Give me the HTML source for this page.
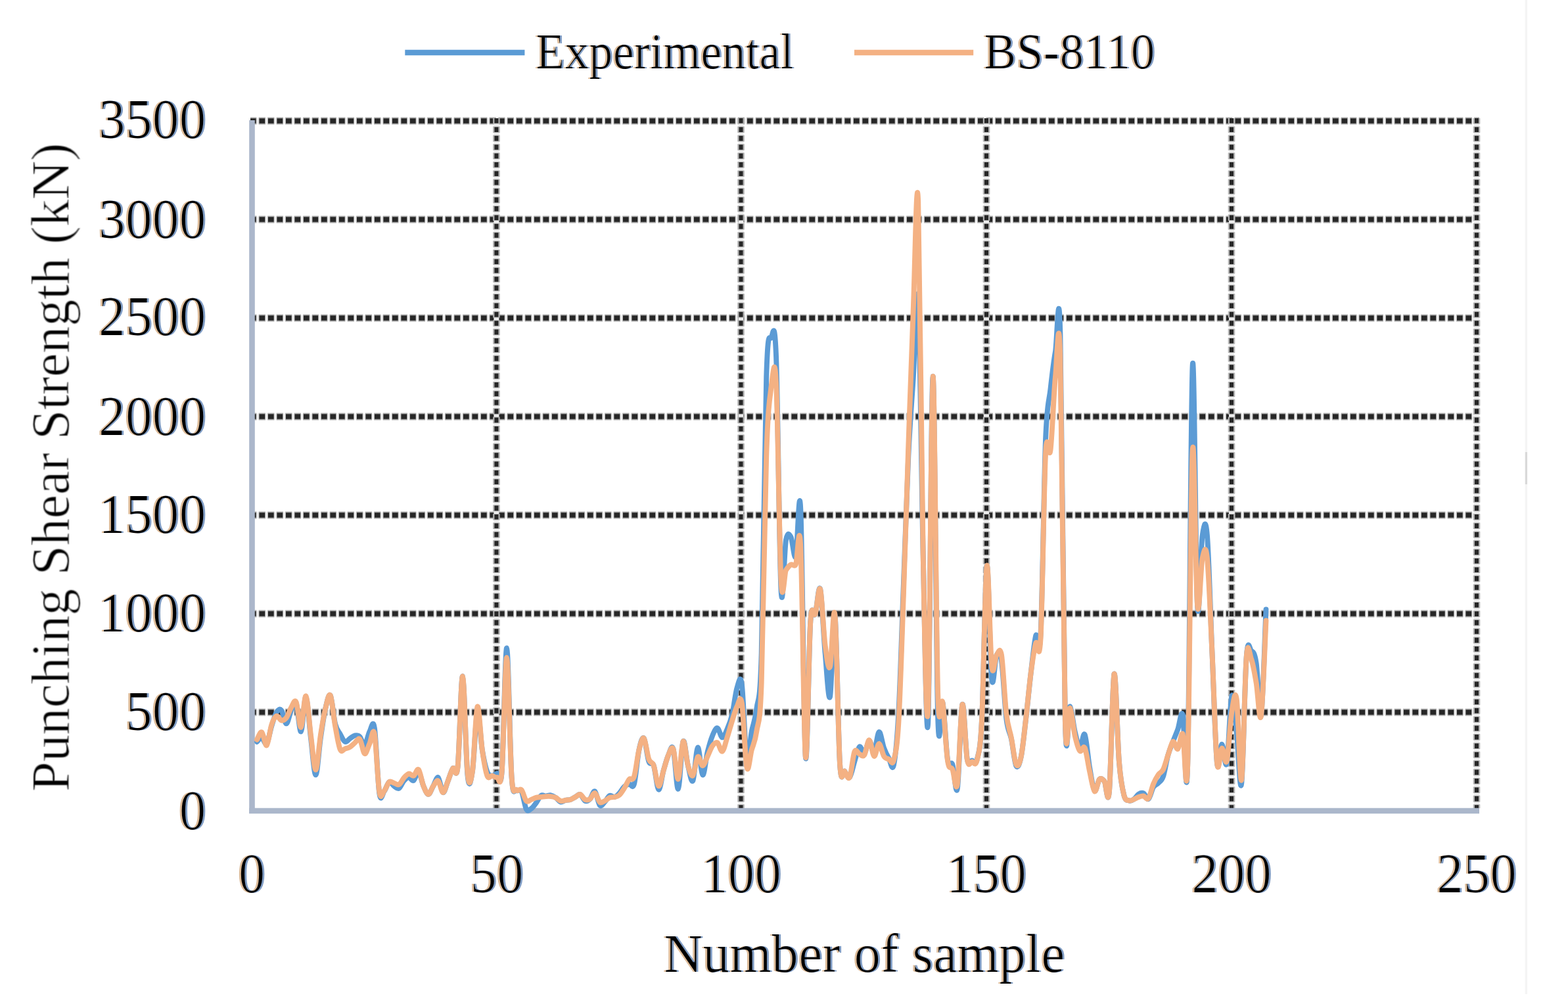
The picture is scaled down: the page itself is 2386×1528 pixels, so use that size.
<!DOCTYPE html>
<html><head><meta charset="utf-8"><style>
html,body{margin:0;padding:0;background:#fff;width:2386px;height:1528px;overflow:hidden}
svg{display:block}
.t{font-family:"Liberation Serif","Times New Roman",serif;fill:#000;filter:url(#ct)}
</style></head><body>
<svg width="2386" height="1528" viewBox="0 0 2386 1528">
<defs><filter id="ct" x="-10%" y="-10%" width="120%" height="120%" color-interpolation-filters="sRGB">
<feOffset in="SourceAlpha" dx="-1.8" dy="0" result="l"/><feFlood flood-color="#DDBB98" result="lc"/><feComposite in="lc" in2="l" operator="in" result="left"/>
<feOffset in="SourceAlpha" dx="1.8" dy="0" result="r"/><feFlood flood-color="#7F9CC4" result="rc"/><feComposite in="rc" in2="r" operator="in" result="right"/>
<feMorphology in="SourceAlpha" operator="erode" radius="0.7 0.4" result="core"/>
<feMerge><feMergeNode in="left"/><feMergeNode in="right"/><feMergeNode in="core"/></feMerge>
</filter>
<filter id="cg" x="-5%" y="-10%" width="110%" height="120%" color-interpolation-filters="sRGB">
<feFlood flood-color="#8a8a8a" result="gc"/><feComposite in="gc" in2="SourceAlpha" operator="in" result="halo"/>
<feMorphology in="SourceAlpha" operator="erode" radius="0.9 0.9" result="core"/>
<feMerge><feMergeNode in="halo"/><feMergeNode in="core"/></feMerge>
</filter></defs>
<rect width="2386" height="1528" fill="#fff"/>
<line x1="2322.4" y1="0" x2="2322.4" y2="1513" stroke="#f4f4f4" stroke-width="3.3"/><line x1="2322.4" y1="688" x2="2322.4" y2="737" stroke="#d9d9d9" stroke-width="3.3"/>
<line x1="381" y1="184" x2="2251" y2="184" stroke="#eeeeee" stroke-width="8"/><line x1="381" y1="184" x2="2251" y2="184" stroke="#a8a8a8" stroke-width="10.8" stroke-dasharray="10.2 3.3" stroke-dashoffset="0.8"/><line x1="381" y1="184" x2="2251" y2="184" stroke="#262626" stroke-width="7.4" stroke-dasharray="8.6 4.9"/><line x1="381" y1="334" x2="2251" y2="334" stroke="#eeeeee" stroke-width="8"/><line x1="381" y1="334" x2="2251" y2="334" stroke="#a8a8a8" stroke-width="10.8" stroke-dasharray="10.2 3.3" stroke-dashoffset="0.8"/><line x1="381" y1="334" x2="2251" y2="334" stroke="#262626" stroke-width="7.4" stroke-dasharray="8.6 4.9"/><line x1="381" y1="484" x2="2251" y2="484" stroke="#eeeeee" stroke-width="8"/><line x1="381" y1="484" x2="2251" y2="484" stroke="#a8a8a8" stroke-width="10.8" stroke-dasharray="10.2 3.3" stroke-dashoffset="0.8"/><line x1="381" y1="484" x2="2251" y2="484" stroke="#262626" stroke-width="7.4" stroke-dasharray="8.6 4.9"/><line x1="381" y1="634" x2="2251" y2="634" stroke="#eeeeee" stroke-width="8"/><line x1="381" y1="634" x2="2251" y2="634" stroke="#a8a8a8" stroke-width="10.8" stroke-dasharray="10.2 3.3" stroke-dashoffset="0.8"/><line x1="381" y1="634" x2="2251" y2="634" stroke="#262626" stroke-width="7.4" stroke-dasharray="8.6 4.9"/><line x1="381" y1="784" x2="2251" y2="784" stroke="#eeeeee" stroke-width="8"/><line x1="381" y1="784" x2="2251" y2="784" stroke="#a8a8a8" stroke-width="10.8" stroke-dasharray="10.2 3.3" stroke-dashoffset="0.8"/><line x1="381" y1="784" x2="2251" y2="784" stroke="#262626" stroke-width="7.4" stroke-dasharray="8.6 4.9"/><line x1="381" y1="934" x2="2251" y2="934" stroke="#eeeeee" stroke-width="8"/><line x1="381" y1="934" x2="2251" y2="934" stroke="#a8a8a8" stroke-width="10.8" stroke-dasharray="10.2 3.3" stroke-dashoffset="0.8"/><line x1="381" y1="934" x2="2251" y2="934" stroke="#262626" stroke-width="7.4" stroke-dasharray="8.6 4.9"/><line x1="381" y1="1084" x2="2251" y2="1084" stroke="#eeeeee" stroke-width="8"/><line x1="381" y1="1084" x2="2251" y2="1084" stroke="#a8a8a8" stroke-width="10.8" stroke-dasharray="10.2 3.3" stroke-dashoffset="0.8"/><line x1="381" y1="1084" x2="2251" y2="1084" stroke="#262626" stroke-width="7.4" stroke-dasharray="8.6 4.9"/><line x1="755.4" y1="180" x2="755.4" y2="1230" stroke="#eeeeee" stroke-width="8"/><line x1="755.4" y1="180" x2="755.4" y2="1230" stroke="#b0b0b0" stroke-width="10.5" stroke-dasharray="9.6 3.8" stroke-dashoffset="1"/><line x1="755.4" y1="180" x2="755.4" y2="1230" stroke="#262626" stroke-width="6" stroke-dasharray="7.6 5.8"/><line x1="1127.5" y1="180" x2="1127.5" y2="1230" stroke="#eeeeee" stroke-width="8"/><line x1="1127.5" y1="180" x2="1127.5" y2="1230" stroke="#b0b0b0" stroke-width="10.5" stroke-dasharray="9.6 3.8" stroke-dashoffset="1"/><line x1="1127.5" y1="180" x2="1127.5" y2="1230" stroke="#262626" stroke-width="6" stroke-dasharray="7.6 5.8"/><line x1="1501" y1="180" x2="1501" y2="1230" stroke="#eeeeee" stroke-width="8"/><line x1="1501" y1="180" x2="1501" y2="1230" stroke="#b0b0b0" stroke-width="10.5" stroke-dasharray="9.6 3.8" stroke-dashoffset="1"/><line x1="1501" y1="180" x2="1501" y2="1230" stroke="#262626" stroke-width="6" stroke-dasharray="7.6 5.8"/><line x1="1874" y1="180" x2="1874" y2="1230" stroke="#eeeeee" stroke-width="8"/><line x1="1874" y1="180" x2="1874" y2="1230" stroke="#b0b0b0" stroke-width="10.5" stroke-dasharray="9.6 3.8" stroke-dashoffset="1"/><line x1="1874" y1="180" x2="1874" y2="1230" stroke="#262626" stroke-width="6" stroke-dasharray="7.6 5.8"/><line x1="2247" y1="180" x2="2247" y2="1230" stroke="#eeeeee" stroke-width="8"/><line x1="2247" y1="180" x2="2247" y2="1230" stroke="#b0b0b0" stroke-width="10.5" stroke-dasharray="9.6 3.8" stroke-dashoffset="1"/><line x1="2247" y1="180" x2="2247" y2="1230" stroke="#262626" stroke-width="6" stroke-dasharray="7.6 5.8"/>
<line x1="383.5" y1="183" x2="383.5" y2="1238" stroke="#ABB7CB" stroke-width="8.6"/>
<line x1="379.2" y1="1234" x2="2251" y2="1234" stroke="#ABB7CB" stroke-width="8.4"/>
<path d="M391.0,1129.0 C392.2,1128.0 395.9,1122.5 398.4,1123.0 C400.9,1123.5 403.4,1135.0 405.9,1132.0 C408.3,1129.0 410.8,1113.0 413.3,1105.0 C415.8,1097.0 418.3,1088.0 420.8,1084.0 C423.3,1080.0 425.7,1078.1 428.2,1081.0 C430.7,1083.9 433.2,1101.4 435.7,1101.4 C438.2,1101.4 440.6,1086.2 443.1,1081.0 C445.6,1075.8 448.1,1065.1 450.6,1070.5 C453.1,1075.9 455.6,1115.0 458.0,1113.4 C460.5,1111.8 463.0,1059.3 465.5,1060.9 C468.0,1062.5 470.5,1103.2 472.9,1123.0 C475.4,1142.8 477.9,1179.4 480.4,1179.4 C482.9,1179.4 485.4,1139.9 487.9,1123.0 C490.3,1106.1 492.8,1088.8 495.3,1078.0 C497.8,1067.2 500.3,1054.5 502.8,1058.5 C505.2,1062.5 507.7,1092.2 510.2,1102.0 C512.7,1111.8 515.2,1112.8 517.7,1117.3 C520.2,1121.8 522.6,1127.9 525.1,1129.0 C527.6,1130.1 530.1,1125.5 532.6,1123.9 C535.1,1122.3 537.5,1119.9 540.0,1119.4 C542.5,1118.9 545.0,1118.7 547.5,1121.2 C550.0,1123.7 552.5,1135.7 554.9,1134.4 C557.4,1133.1 559.9,1117.8 562.4,1113.4 C564.9,1109.0 567.4,1092.3 569.9,1108.0 C572.3,1123.7 574.8,1191.6 577.3,1207.6 C579.8,1223.6 582.3,1206.9 584.8,1204.0 C587.2,1201.1 589.7,1191.5 592.2,1190.2 C594.7,1188.9 597.2,1194.9 599.7,1196.5 C602.2,1198.1 604.6,1201.2 607.1,1199.8 C609.6,1198.4 612.1,1191.2 614.6,1188.4 C617.1,1185.6 619.5,1183.1 622.0,1183.0 C624.5,1182.9 627.0,1189.3 629.5,1187.8 C632.0,1186.3 634.5,1172.9 636.9,1174.3 C639.4,1175.7 641.9,1190.4 644.4,1196.2 C646.9,1202.0 649.4,1208.8 651.8,1208.8 C654.3,1208.8 656.8,1200.5 659.3,1196.2 C661.8,1191.9 664.3,1181.6 666.8,1183.3 C669.2,1185.0 671.7,1205.2 674.2,1206.1 C676.7,1207.0 679.2,1194.5 681.7,1188.4 C684.1,1182.3 686.6,1173.2 689.1,1169.5 C691.6,1165.8 694.1,1189.9 696.6,1166.5 C699.1,1143.1 701.5,1027.1 704.0,1029.4 C706.5,1031.7 709.0,1155.9 711.5,1180.0 C714.0,1204.1 716.4,1190.0 718.9,1174.0 C721.4,1158.0 723.9,1089.5 726.4,1084.0 C728.9,1078.5 731.4,1126.2 733.8,1141.3 C736.3,1156.4 738.8,1167.7 741.3,1174.3 C743.8,1180.9 746.3,1180.1 748.7,1180.6 C751.2,1181.1 753.7,1178.1 756.2,1177.0 C758.7,1175.9 761.2,1205.8 763.7,1174.0 C766.1,1142.2 768.6,984.7 771.1,986.2 C773.6,987.7 776.1,1147.0 778.6,1183.0 C781.0,1219.0 783.5,1198.7 786.0,1202.2 C788.5,1205.7 791.0,1199.1 793.5,1204.0 C796.0,1208.9 798.4,1227.1 800.9,1231.6 C803.4,1236.1 805.9,1232.3 808.4,1230.7 C810.9,1229.1 813.3,1225.3 815.8,1222.0 C818.3,1218.7 820.8,1212.7 823.3,1210.9 C825.8,1209.1 828.3,1211.6 830.7,1211.5 C833.2,1211.4 835.7,1209.9 838.2,1210.3 C840.7,1210.7 843.2,1212.2 845.6,1213.9 C848.1,1215.6 850.6,1219.8 853.1,1220.5 C855.6,1221.2 858.1,1218.4 860.6,1217.8 C863.0,1217.2 865.5,1217.7 868.0,1216.9 C870.5,1216.1 873.0,1214.3 875.5,1213.0 C877.9,1211.7 880.4,1208.1 882.9,1209.1 C885.4,1210.1 887.9,1217.8 890.4,1219.0 C892.9,1220.2 895.3,1218.5 897.8,1216.0 C900.3,1213.5 902.8,1202.7 905.3,1204.3 C907.8,1205.9 910.2,1222.9 912.7,1225.6 C915.2,1228.3 917.7,1223.0 920.2,1220.5 C922.7,1218.0 925.2,1212.2 927.6,1210.9 C930.1,1209.6 932.6,1213.7 935.1,1213.0 C937.6,1212.3 940.1,1209.7 942.5,1207.0 C945.0,1204.3 947.5,1199.4 950.0,1197.1 C952.5,1194.8 955.0,1193.8 957.5,1193.2 C959.9,1192.6 962.4,1202.2 964.9,1193.5 C967.4,1184.8 969.9,1153.0 972.4,1141.3 C974.9,1129.6 977.3,1120.6 979.8,1123.6 C982.3,1126.6 984.8,1152.1 987.3,1159.0 C989.8,1165.9 992.2,1157.9 994.7,1165.0 C997.2,1172.1 999.7,1200.3 1002.2,1201.6 C1004.7,1202.9 1007.2,1181.6 1009.6,1172.8 C1012.1,1164.0 1014.6,1154.6 1017.1,1149.1 C1019.6,1143.6 1022.1,1131.5 1024.5,1140.1 C1027.0,1148.7 1029.5,1202.7 1032.0,1200.7 C1034.5,1198.7 1037.0,1134.4 1039.5,1128.4 C1041.9,1122.4 1044.4,1155.0 1046.9,1165.0 C1049.4,1175.0 1051.9,1192.7 1054.4,1188.1 C1056.8,1183.5 1059.3,1139.2 1061.8,1137.7 C1064.3,1136.2 1066.8,1178.3 1069.3,1179.4 C1071.8,1180.5 1074.2,1154.0 1076.7,1144.0 C1079.2,1134.0 1081.7,1125.4 1084.2,1119.4 C1086.7,1113.4 1089.1,1107.5 1091.6,1108.0 C1094.1,1108.5 1096.6,1122.1 1099.1,1122.4 C1101.6,1122.7 1104.1,1115.6 1106.5,1109.8 C1109.0,1104.0 1111.5,1098.4 1114.0,1087.9 C1116.5,1077.4 1119.0,1054.8 1121.4,1047.1 C1123.9,1039.4 1126.4,1023.6 1128.9,1042.0 C1131.4,1060.4 1133.9,1145.6 1136.4,1157.5 C1138.8,1169.4 1141.3,1126.3 1143.8,1113.1 C1146.3,1099.9 1148.8,1098.5 1151.3,1078.6 C1153.7,1058.7 1156.2,1078.1 1158.7,994.0 C1161.2,909.9 1163.7,654.0 1166.2,574.0 C1168.7,494.0 1171.1,519.0 1173.6,514.0 C1176.1,509.0 1178.6,480.0 1181.1,544.0 C1183.6,608.0 1186.0,851.7 1188.5,898.0 C1191.0,944.3 1193.5,835.3 1196.0,821.8 C1198.5,808.3 1201.0,812.8 1203.4,817.0 C1205.9,821.2 1208.4,854.0 1210.9,847.0 C1213.4,840.0 1215.9,724.2 1218.3,775.0 C1220.8,825.8 1223.3,1123.3 1225.8,1151.8 C1228.3,1180.3 1230.8,982.3 1233.3,946.0 C1235.7,909.7 1238.2,942.2 1240.7,934.0 C1243.2,925.8 1245.7,886.8 1248.2,896.8 C1250.6,906.8 1253.1,966.7 1255.6,994.0 C1258.1,1021.3 1260.6,1070.0 1263.1,1060.3 C1265.6,1050.6 1268.0,919.1 1270.5,936.1 C1273.0,953.1 1275.5,1122.3 1278.0,1162.0 C1280.5,1201.7 1282.9,1170.5 1285.4,1174.0 C1287.9,1177.5 1290.4,1185.5 1292.9,1183.0 C1295.4,1180.5 1297.9,1166.8 1300.3,1159.0 C1302.8,1151.2 1305.3,1138.5 1307.8,1136.5 C1310.3,1134.5 1312.8,1148.5 1315.2,1147.0 C1317.7,1145.5 1320.2,1128.0 1322.7,1127.5 C1325.2,1127.0 1327.7,1146.3 1330.2,1144.0 C1332.6,1141.7 1335.1,1115.0 1337.6,1114.0 C1340.1,1113.0 1342.6,1131.6 1345.1,1138.3 C1347.6,1145.0 1350.0,1149.6 1352.5,1153.9 C1355.0,1158.2 1357.5,1175.8 1360.0,1164.1 C1362.5,1152.4 1364.9,1129.9 1367.4,1084.0 C1369.9,1038.1 1372.4,954.0 1374.9,889.0 C1377.4,824.0 1379.9,746.5 1382.3,694.0 C1384.8,641.5 1387.3,613.5 1389.8,574.0 C1392.3,534.5 1394.8,412.0 1397.2,457.0 C1399.7,502.0 1402.2,736.7 1404.7,844.0 C1407.2,951.3 1409.7,1145.7 1412.2,1100.5 C1414.6,1055.3 1417.1,574.6 1419.6,572.8 C1422.1,571.0 1424.6,1007.2 1427.1,1090.0 C1429.5,1172.8 1432.0,1058.6 1434.5,1069.6 C1437.0,1080.6 1439.5,1140.3 1442.0,1156.0 C1444.5,1171.7 1446.9,1156.2 1449.4,1163.5 C1451.9,1170.8 1454.4,1214.7 1456.9,1199.5 C1459.4,1184.3 1461.8,1079.7 1464.3,1072.3 C1466.8,1064.9 1469.3,1141.2 1471.8,1155.4 C1474.3,1169.6 1476.8,1157.4 1479.2,1157.5 C1481.7,1157.6 1484.2,1166.6 1486.7,1156.0 C1489.2,1145.4 1491.7,1143.3 1494.1,1094.2 C1496.6,1045.1 1499.1,871.6 1501.6,861.4 C1504.1,851.2 1506.6,1010.4 1509.1,1033.0 C1511.5,1055.6 1514.0,1001.5 1516.5,997.0 C1519.0,992.5 1521.5,989.7 1524.0,1006.0 C1526.4,1022.3 1528.9,1074.7 1531.4,1094.5 C1533.9,1114.3 1536.4,1112.6 1538.9,1124.5 C1541.4,1136.4 1543.8,1161.1 1546.3,1165.6 C1548.8,1170.1 1551.3,1163.6 1553.8,1151.5 C1556.3,1139.4 1558.7,1114.3 1561.2,1093.0 C1563.7,1071.7 1566.2,1044.9 1568.7,1024.0 C1571.2,1003.1 1573.7,977.6 1576.1,967.6 C1578.6,957.6 1581.1,1013.6 1583.6,964.0 C1586.1,914.4 1588.6,732.0 1591.0,670.0 C1593.5,608.0 1596.0,614.5 1598.5,592.0 C1601.0,569.5 1603.5,549.0 1606.0,535.0 C1608.4,521.0 1610.9,414.0 1613.4,508.0 C1615.9,602.0 1618.4,1004.4 1620.9,1099.0 C1623.3,1193.6 1625.8,1072.8 1628.3,1075.3 C1630.8,1077.8 1633.3,1103.5 1635.8,1114.0 C1638.3,1124.5 1640.7,1137.6 1643.2,1138.3 C1645.7,1139.0 1648.2,1112.9 1650.7,1117.9 C1653.2,1122.9 1655.6,1153.7 1658.1,1168.0 C1660.6,1182.3 1663.1,1200.4 1665.6,1203.4 C1668.1,1206.4 1670.6,1188.4 1673.0,1186.0 C1675.5,1183.6 1678.0,1186.0 1680.5,1189.0 C1683.0,1192.0 1685.5,1231.2 1688.0,1204.0 C1690.4,1176.8 1692.9,1033.3 1695.4,1025.8 C1697.9,1018.3 1700.4,1128.3 1702.9,1159.0 C1705.3,1189.7 1707.8,1200.1 1710.3,1210.0 C1712.8,1219.9 1715.3,1217.3 1717.8,1218.4 C1720.3,1219.5 1722.7,1218.3 1725.2,1216.6 C1727.7,1214.9 1730.2,1210.1 1732.7,1208.5 C1735.2,1206.9 1737.6,1206.0 1740.1,1207.3 C1742.6,1208.6 1745.1,1217.6 1747.6,1216.0 C1750.1,1214.4 1752.6,1202.1 1755.0,1198.0 C1757.5,1193.9 1760.0,1194.4 1762.5,1191.7 C1765.0,1189.0 1767.5,1189.2 1769.9,1182.1 C1772.4,1175.0 1774.9,1158.0 1777.4,1149.1 C1779.9,1140.2 1782.4,1135.3 1784.9,1128.7 C1787.3,1122.1 1789.8,1116.6 1792.3,1109.8 C1794.8,1103.0 1797.3,1078.9 1799.8,1087.9 C1802.2,1096.9 1804.7,1252.2 1807.2,1163.5 C1809.7,1074.8 1812.2,596.0 1814.7,555.7 C1817.2,515.4 1819.6,878.4 1822.1,921.7 C1824.6,965.0 1827.1,833.2 1829.6,815.5 C1832.1,797.8 1834.5,785.7 1837.0,815.5 C1839.5,845.3 1842.0,936.5 1844.5,994.0 C1847.0,1051.5 1849.5,1137.4 1851.9,1160.5 C1854.4,1183.6 1856.9,1132.4 1859.4,1132.6 C1861.9,1132.8 1864.4,1173.7 1866.8,1161.4 C1869.3,1149.1 1871.8,1067.0 1874.3,1059.1 C1876.8,1051.2 1879.3,1091.7 1881.8,1114.0 C1884.2,1136.3 1886.7,1211.6 1889.2,1192.6 C1891.7,1173.6 1894.2,1033.7 1896.7,1000.0 C1899.1,966.3 1901.6,988.9 1904.1,990.4 C1906.6,991.9 1909.1,992.5 1911.6,1009.0 C1914.1,1025.5 1916.5,1102.7 1919.0,1089.1 C1921.5,1075.5 1925.2,954.4 1926.5,927.4" fill="none" stroke="#5B9BD5" stroke-width="7.9" stroke-linejoin="round" stroke-linecap="round"/><path d="M391.0,1125.7 C392.2,1123.8 395.9,1112.8 398.4,1114.3 C400.9,1115.8 403.4,1136.3 405.9,1134.4 C408.3,1132.5 410.8,1110.4 413.3,1102.9 C415.8,1095.4 418.3,1090.8 420.8,1089.7 C423.3,1088.6 425.7,1095.8 428.2,1096.3 C430.7,1096.8 433.2,1095.7 435.7,1092.4 C438.2,1089.1 440.6,1080.8 443.1,1076.8 C445.6,1072.8 448.1,1063.4 450.6,1068.4 C453.1,1073.4 455.6,1108.3 458.0,1106.8 C460.5,1105.3 463.0,1057.4 465.5,1059.4 C468.0,1061.4 470.5,1099.8 472.9,1118.5 C475.4,1137.2 477.9,1171.6 480.4,1171.6 C482.9,1171.6 485.4,1134.1 487.9,1118.5 C490.3,1102.9 492.8,1088.0 495.3,1078.0 C497.8,1068.0 500.3,1053.9 502.8,1058.5 C505.2,1063.1 507.7,1091.9 510.2,1105.6 C512.7,1119.3 515.2,1135.0 517.7,1140.7 C520.2,1146.4 522.6,1140.2 525.1,1139.5 C527.6,1138.8 530.1,1138.3 532.6,1136.8 C535.1,1135.3 537.5,1132.5 540.0,1130.5 C542.5,1128.5 545.0,1122.3 547.5,1125.1 C550.0,1127.9 552.5,1145.9 554.9,1147.0 C557.4,1148.1 559.9,1136.7 562.4,1131.7 C564.9,1126.7 567.4,1104.7 569.9,1117.0 C572.3,1129.3 574.8,1191.1 577.3,1205.5 C579.8,1219.9 582.3,1206.0 584.8,1203.4 C587.2,1200.8 589.7,1192.2 592.2,1190.2 C594.7,1188.2 597.2,1191.0 599.7,1191.7 C602.2,1192.4 604.6,1195.4 607.1,1194.1 C609.6,1192.8 612.1,1186.7 614.6,1183.9 C617.1,1181.1 619.5,1178.2 622.0,1177.6 C624.5,1177.0 627.0,1181.7 629.5,1180.6 C632.0,1179.5 634.5,1168.7 636.9,1171.3 C639.4,1173.9 641.9,1189.9 644.4,1196.2 C646.9,1202.5 649.4,1208.8 651.8,1208.8 C654.3,1208.8 656.8,1199.6 659.3,1196.2 C661.8,1192.8 664.3,1186.7 666.8,1188.4 C669.2,1190.1 671.7,1206.1 674.2,1206.1 C676.7,1206.1 679.2,1194.5 681.7,1188.4 C684.1,1182.3 686.6,1173.2 689.1,1169.5 C691.6,1165.8 694.1,1189.9 696.6,1166.5 C699.1,1143.1 701.5,1027.6 704.0,1029.4 C706.5,1031.2 709.0,1152.9 711.5,1177.0 C714.0,1201.1 716.4,1190.9 718.9,1174.0 C721.4,1157.1 723.9,1081.1 726.4,1075.6 C728.9,1070.1 731.4,1123.8 733.8,1141.3 C736.3,1158.8 738.8,1174.0 741.3,1180.6 C743.8,1187.2 746.3,1180.2 748.7,1180.6 C751.2,1181.0 753.7,1184.1 756.2,1183.0 C758.7,1181.9 761.2,1204.4 763.7,1174.0 C766.1,1143.6 768.6,999.4 771.1,1000.9 C773.6,1002.4 776.1,1149.4 778.6,1183.0 C781.0,1216.6 783.5,1199.0 786.0,1202.2 C788.5,1205.4 791.0,1199.4 793.5,1202.2 C796.0,1205.0 798.4,1216.5 800.9,1219.0 C803.4,1221.5 805.9,1217.8 808.4,1216.9 C810.9,1216.0 813.3,1214.6 815.8,1213.9 C818.3,1213.2 820.8,1213.3 823.3,1213.0 C825.8,1212.7 828.3,1212.3 830.7,1212.1 C833.2,1211.9 835.7,1211.8 838.2,1212.1 C840.7,1212.4 843.2,1212.7 845.6,1213.9 C848.1,1215.1 850.6,1218.3 853.1,1219.0 C855.6,1219.7 858.1,1218.2 860.6,1217.8 C863.0,1217.4 865.5,1217.7 868.0,1216.9 C870.5,1216.1 873.0,1214.3 875.5,1213.0 C877.9,1211.7 880.4,1208.4 882.9,1209.1 C885.4,1209.8 887.9,1215.7 890.4,1216.9 C892.9,1218.1 895.3,1217.7 897.8,1216.0 C900.3,1214.3 902.8,1206.2 905.3,1207.0 C907.8,1207.8 910.2,1218.8 912.7,1220.8 C915.2,1222.8 917.7,1220.2 920.2,1219.0 C922.7,1217.8 925.2,1214.9 927.6,1213.9 C930.1,1212.9 932.6,1213.7 935.1,1213.0 C937.6,1212.3 940.1,1212.3 942.5,1210.0 C945.0,1207.7 947.5,1203.5 950.0,1199.5 C952.5,1195.5 955.0,1188.9 957.5,1186.0 C959.9,1183.1 962.4,1189.6 964.9,1182.1 C967.4,1174.6 969.9,1151.1 972.4,1141.3 C974.9,1131.5 977.3,1121.2 979.8,1123.6 C982.3,1126.0 984.8,1148.5 987.3,1155.4 C989.8,1162.3 992.2,1158.2 994.7,1165.0 C997.2,1171.8 999.7,1194.9 1002.2,1196.2 C1004.7,1197.5 1007.2,1180.7 1009.6,1172.8 C1012.1,1164.9 1014.6,1154.6 1017.1,1149.1 C1019.6,1143.6 1022.1,1134.0 1024.5,1140.1 C1027.0,1146.2 1029.5,1187.7 1032.0,1185.7 C1034.5,1183.7 1037.0,1131.9 1039.5,1128.4 C1041.9,1124.9 1044.4,1156.3 1046.9,1165.0 C1049.4,1173.7 1051.9,1182.5 1054.4,1180.3 C1056.8,1178.1 1059.3,1154.3 1061.8,1151.8 C1064.3,1149.3 1066.8,1165.5 1069.3,1165.3 C1071.8,1165.1 1074.2,1156.0 1076.7,1150.9 C1079.2,1145.8 1081.7,1138.5 1084.2,1135.0 C1086.7,1131.5 1089.1,1128.8 1091.6,1130.2 C1094.1,1131.6 1096.6,1144.7 1099.1,1143.4 C1101.6,1142.1 1104.1,1130.1 1106.5,1122.4 C1109.0,1114.7 1111.5,1105.4 1114.0,1097.5 C1116.5,1089.6 1119.0,1079.8 1121.4,1075.3 C1123.9,1070.8 1126.4,1055.1 1128.9,1070.5 C1131.4,1085.9 1133.9,1155.9 1136.4,1167.7 C1138.8,1179.5 1141.3,1150.4 1143.8,1141.3 C1146.3,1132.2 1148.8,1130.2 1151.3,1113.1 C1153.7,1096.0 1156.2,1108.9 1158.7,1039.0 C1161.2,969.1 1163.7,769.0 1166.2,694.0 C1168.7,619.0 1171.1,607.5 1173.6,589.0 C1176.1,570.5 1178.6,534.0 1181.1,583.0 C1183.6,632.0 1186.0,835.5 1188.5,883.0 C1191.0,930.5 1193.5,871.7 1196.0,867.7 C1198.5,863.7 1201.0,860.8 1203.4,859.3 C1205.9,857.8 1208.4,863.6 1210.9,859.0 C1213.4,854.4 1215.9,783.2 1218.3,832.0 C1220.8,880.8 1223.3,1132.8 1225.8,1151.8 C1228.3,1170.8 1230.8,982.3 1233.3,946.0 C1235.7,909.7 1238.2,942.2 1240.7,934.0 C1243.2,925.8 1245.7,888.8 1248.2,896.8 C1250.6,904.8 1253.1,962.4 1255.6,982.0 C1258.1,1001.6 1260.6,1022.1 1263.1,1014.4 C1265.6,1006.7 1268.0,911.5 1270.5,936.1 C1273.0,960.7 1275.5,1122.3 1278.0,1162.0 C1280.5,1201.7 1282.9,1170.5 1285.4,1174.0 C1287.9,1177.5 1290.4,1188.0 1292.9,1183.0 C1295.4,1178.0 1297.9,1149.9 1300.3,1144.0 C1302.8,1138.1 1305.3,1146.7 1307.8,1147.6 C1310.3,1148.5 1312.8,1152.7 1315.2,1149.1 C1317.7,1145.5 1320.2,1126.0 1322.7,1126.3 C1325.2,1126.6 1327.7,1149.9 1330.2,1150.9 C1332.6,1151.9 1335.1,1132.0 1337.6,1132.0 C1340.1,1132.0 1342.6,1147.0 1345.1,1150.9 C1347.6,1154.8 1350.0,1154.4 1352.5,1155.4 C1355.0,1156.4 1357.5,1166.3 1360.0,1156.9 C1362.5,1147.5 1364.9,1141.2 1367.4,1099.0 C1369.9,1056.8 1372.4,974.0 1374.9,904.0 C1377.4,834.0 1379.9,751.5 1382.3,679.0 C1384.8,606.5 1387.3,531.0 1389.8,469.0 C1392.3,407.0 1394.8,244.5 1397.2,307.0 C1399.7,369.5 1402.2,714.7 1404.7,844.0 C1407.2,973.3 1409.7,1127.7 1412.2,1082.5 C1414.6,1037.3 1417.1,577.6 1419.6,572.8 C1422.1,568.0 1424.6,971.2 1427.1,1054.0 C1429.5,1136.8 1432.0,1052.3 1434.5,1069.6 C1437.0,1086.9 1439.5,1140.6 1442.0,1157.5 C1444.5,1174.4 1446.9,1165.1 1449.4,1171.0 C1451.9,1176.9 1454.4,1209.4 1456.9,1192.9 C1459.4,1176.4 1461.8,1078.5 1464.3,1072.3 C1466.8,1066.1 1469.3,1141.5 1471.8,1156.0 C1474.3,1170.5 1476.8,1159.1 1479.2,1159.3 C1481.7,1159.5 1484.2,1167.8 1486.7,1156.9 C1489.2,1146.0 1491.7,1143.5 1494.1,1094.2 C1496.6,1044.9 1499.1,874.9 1501.6,861.4 C1504.1,847.9 1506.6,990.9 1509.1,1013.5 C1511.5,1036.1 1514.0,999.8 1516.5,997.0 C1519.0,994.2 1521.5,982.0 1524.0,997.0 C1526.4,1012.0 1528.9,1066.0 1531.4,1087.0 C1533.9,1108.0 1536.4,1110.2 1538.9,1123.0 C1541.4,1135.8 1543.8,1158.7 1546.3,1163.5 C1548.8,1168.3 1551.3,1163.3 1553.8,1151.5 C1556.3,1139.7 1558.7,1114.3 1561.2,1093.0 C1563.7,1071.7 1566.2,1043.0 1568.7,1024.0 C1571.2,1005.0 1573.7,988.0 1576.1,979.0 C1578.6,970.0 1581.1,1018.0 1583.6,970.0 C1586.1,922.0 1588.6,738.5 1591.0,691.0 C1593.5,643.5 1596.0,704.7 1598.5,685.0 C1601.0,665.3 1603.5,596.6 1606.0,573.1 C1608.4,549.6 1610.9,456.6 1613.4,544.0 C1615.9,631.4 1618.4,1008.5 1620.9,1097.5 C1623.3,1186.5 1625.8,1073.9 1628.3,1077.7 C1630.8,1081.5 1633.3,1109.1 1635.8,1120.0 C1638.3,1130.9 1640.7,1139.7 1643.2,1142.8 C1645.7,1145.9 1648.2,1133.1 1650.7,1138.3 C1653.2,1143.5 1655.6,1163.0 1658.1,1174.0 C1660.6,1185.0 1663.1,1202.3 1665.6,1204.3 C1668.1,1206.3 1670.6,1188.6 1673.0,1186.0 C1675.5,1183.4 1678.0,1186.0 1680.5,1189.0 C1683.0,1192.0 1685.5,1231.2 1688.0,1204.0 C1690.4,1176.8 1692.9,1033.3 1695.4,1025.8 C1697.9,1018.3 1700.4,1128.3 1702.9,1159.0 C1705.3,1189.7 1707.8,1200.1 1710.3,1210.0 C1712.8,1219.9 1715.3,1217.3 1717.8,1218.4 C1720.3,1219.5 1722.7,1217.5 1725.2,1216.6 C1727.7,1215.7 1730.2,1213.9 1732.7,1213.0 C1735.2,1212.1 1737.6,1211.1 1740.1,1211.5 C1742.6,1211.9 1745.1,1218.2 1747.6,1215.1 C1750.1,1212.0 1752.6,1199.2 1755.0,1193.2 C1757.5,1187.2 1760.0,1182.8 1762.5,1179.1 C1765.0,1175.4 1767.5,1176.3 1769.9,1171.3 C1772.4,1166.3 1774.9,1156.2 1777.4,1149.1 C1779.9,1142.0 1782.4,1130.3 1784.9,1128.7 C1787.3,1127.1 1789.8,1141.8 1792.3,1139.8 C1794.8,1137.8 1797.3,1112.8 1799.8,1117.0 C1802.2,1121.2 1804.7,1237.0 1807.2,1165.0 C1809.7,1093.0 1812.2,725.6 1814.7,685.0 C1817.2,644.4 1819.6,894.2 1822.1,921.7 C1824.6,949.2 1827.1,862.0 1829.6,850.0 C1832.1,838.0 1834.5,826.0 1837.0,850.0 C1839.5,874.0 1842.0,942.2 1844.5,994.0 C1847.0,1045.8 1849.5,1136.4 1851.9,1160.5 C1854.4,1184.6 1856.9,1139.0 1859.4,1138.6 C1861.9,1138.2 1864.4,1167.2 1866.8,1158.1 C1869.3,1149.0 1871.8,1099.7 1874.3,1084.0 C1876.8,1068.3 1879.3,1047.0 1881.8,1064.2 C1884.2,1081.4 1886.7,1197.6 1889.2,1186.9 C1891.7,1176.2 1894.2,1030.7 1896.7,1000.0 C1899.1,969.3 1901.6,996.5 1904.1,1003.0 C1906.6,1009.5 1909.1,1024.6 1911.6,1039.0 C1914.1,1053.4 1916.5,1104.9 1919.0,1089.1 C1921.5,1073.3 1925.2,968.6 1926.5,944.5" fill="none" stroke="#F4B183" stroke-width="7.9" stroke-linejoin="round" stroke-linecap="round"/>
<line x1="616.3" y1="80" x2="798.4" y2="80" stroke="#5B9BD5" stroke-width="8.4"/>
<text x="815" y="104.5" class="t" font-size="77" transform="translate(815,0) scale(0.947,1) translate(-815,0)">Experimental</text>
<line x1="1300" y1="80" x2="1481.2" y2="80" stroke="#F4B183" stroke-width="8.4"/>
<text x="1497" y="104.5" class="t" font-size="77" transform="translate(1497,0) scale(0.962,1) translate(-1497,0)">BS-8110</text>
<text x="313.5" y="210" text-anchor="end" class="t" font-size="84" transform="translate(313.5,0) scale(0.975,1) translate(-313.5,0)">3500</text><text x="313.5" y="362" text-anchor="end" class="t" font-size="84" transform="translate(313.5,0) scale(0.975,1) translate(-313.5,0)">3000</text><text x="313.5" y="510" text-anchor="end" class="t" font-size="84" transform="translate(313.5,0) scale(0.975,1) translate(-313.5,0)">2500</text><text x="313.5" y="662" text-anchor="end" class="t" font-size="84" transform="translate(313.5,0) scale(0.975,1) translate(-313.5,0)">2000</text><text x="313.5" y="811" text-anchor="end" class="t" font-size="84" transform="translate(313.5,0) scale(0.975,1) translate(-313.5,0)">1500</text><text x="313.5" y="961" text-anchor="end" class="t" font-size="84" transform="translate(313.5,0) scale(0.975,1) translate(-313.5,0)">1000</text><text x="313.5" y="1111.5" text-anchor="end" class="t" font-size="84" transform="translate(313.5,0) scale(0.975,1) translate(-313.5,0)">500</text><text x="313.5" y="1262" text-anchor="end" class="t" font-size="84" transform="translate(313.5,0) scale(0.975,1) translate(-313.5,0)">0</text>
<text x="383" y="1358" text-anchor="middle" class="t" font-size="84" transform="translate(383,0) scale(0.97,1) translate(-383,0)">0</text><text x="756" y="1358" text-anchor="middle" class="t" font-size="84" transform="translate(756,0) scale(0.97,1) translate(-756,0)">50</text><text x="1128" y="1358" text-anchor="middle" class="t" font-size="84" transform="translate(1128,0) scale(0.97,1) translate(-1128,0)">100</text><text x="1501" y="1358" text-anchor="middle" class="t" font-size="84" transform="translate(1501,0) scale(0.97,1) translate(-1501,0)">150</text><text x="1874" y="1358" text-anchor="middle" class="t" font-size="84" transform="translate(1874,0) scale(0.97,1) translate(-1874,0)">200</text><text x="2247" y="1358" text-anchor="middle" class="t" font-size="84" transform="translate(2247,0) scale(0.97,1) translate(-2247,0)">250</text>
<text x="1010" y="1479" class="t" font-size="82">Number of sample</text>
<text transform="translate(104.5,1204.5) rotate(-90) scale(0.9965,1)" class="t" style="filter:url(#cg)" font-size="82">Punching Shear Strength (kN)</text>
</svg>
</body></html>
